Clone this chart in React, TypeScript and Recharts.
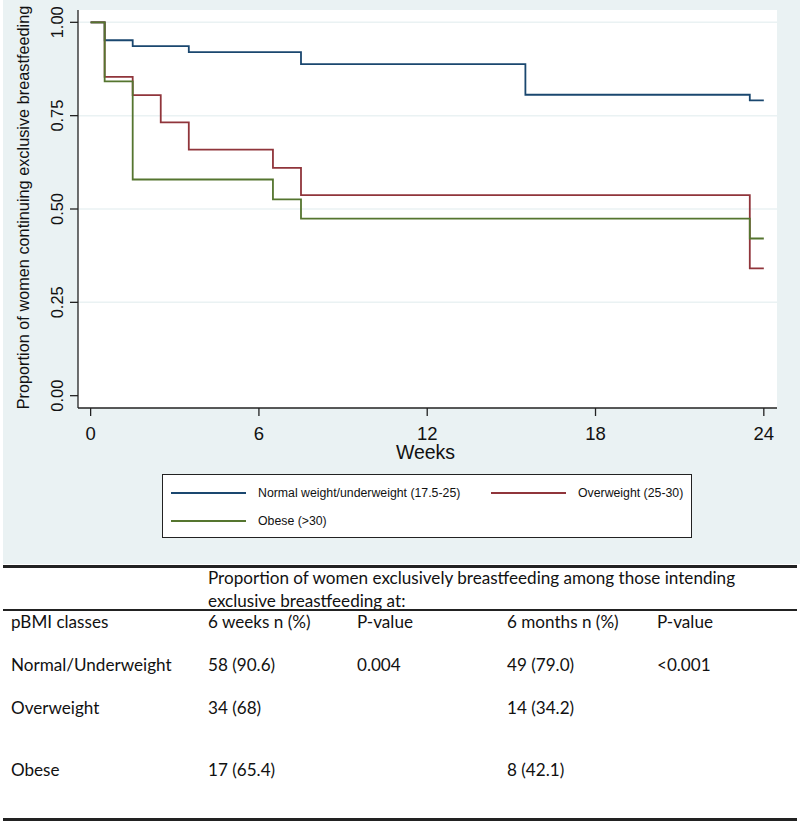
import React from "react";
import { LineChart, Line, XAxis, YAxis, CartesianGrid, ReferenceLine, Label } from "recharts";

// ---- data ----
const xTicks = [0, 6, 12, 18, 24];
const yTicks = [0, 0.25, 0.5, 0.75, 1];
const gridValues = [0.25, 0.5, 0.75, 1];

const normalWeeks = [0, 0.5, 1.5, 3.5, 7.5, 15.5, 23.5, 24];
const normalSurv = [1.0, 0.952, 0.936, 0.92, 0.888, 0.806, 0.791, 0.791];

const overWeeks = [0, 0.5, 1.5, 2.5, 3.5, 6.5, 7.5, 23.5, 24];
const overSurv = [1.0, 0.854, 0.805, 0.732, 0.659, 0.61, 0.537, 0.341, 0.341];

const obeseWeeks = [0, 0.5, 1.5, 6.5, 7.5, 23.5, 24];
const obeseSurv = [1.0, 0.842, 0.579, 0.526, 0.474, 0.421, 0.421];

const seriesNames = ["Normal weight/underweight (17.5-25)", "Overweight (25-30)", "Obese (>30)"];
const seriesColors = ["#1a476f", "#90353b", "#55752f"];

const tableHeader1 = "Proportion of women exclusively breastfeeding among those intending";
const tableHeader2 = "exclusive breastfeeding at:";
const colHeaders = ["pBMI classes", "6 weeks n (%)", "P-value", "6 months n (%)", "P-value"];
const rowLabels = ["Normal/Underweight", "Overweight", "Obese"];
const weeks6 = ["58 (90.6)", "34 (68)", "17 (65.4)"];
const p6 = ["0.004", "", ""];
const months6 = ["49 (79.0)", "14 (34.2)", "8 (42.1)"];
const pMonths = ["<0.001", "", ""];

const toData = (w: number[], s: number[]) => w.map((x, i) => ({ w: x, s: s[i] }));
const seriesData = [
  toData(normalWeeks, normalSurv),
  toData(overWeeks, overSurv),
  toData(obeseWeeks, obeseSurv),
];

const AX = "'Liberation Sans', Arial, sans-serif";
const TBL = "Lato, 'Open Sans', sans-serif";

const XTick = (p: any) => (
  <text x={p.x} y={p.y + 24} textAnchor="middle" fontSize={18.5} fontFamily={AX} fill="#111">
    {p.payload.value}
  </text>
);

const YTick = (p: any) => (
  <text
    x={0}
    y={0}
    transform={`translate(${p.x - 7},${p.y}) rotate(-90)`}
    textAnchor="middle"
    fontSize={16.4}
    fontFamily={AX}
    fill="#111"
  >
    {Number(p.payload.value).toFixed(2)}
  </text>
);

const rowY = [665, 708, 770];
const colX = [11, 208, 357, 507, 657];

const Cell = ({ x, y, text }: { x: number; y: number; text: string }) => (
  <div
    style={{
      position: "absolute",
      left: x,
      top: y - 12,
      height: 24,
      lineHeight: "24px",
      fontSize: 17.1,
      fontFamily: TBL,
      color: "#111",
      whiteSpace: "nowrap",
    }}
  >
    {text}
  </div>
);

export default function App() {
  return (
    <div style={{ position: "absolute", left: 0, top: 0, width: 800, height: 822, background: "#fff" }}>
      <div style={{ position: "absolute", left: 3, top: 0, width: 797, height: 564, background: "#eaf2f3" }} />
      <div style={{ position: "absolute", left: 0, top: 0 }}>
        <LineChart width={800} height={564} margin={{ top: 10, right: 23, bottom: 106, left: 18 }}>
          <CartesianGrid horizontal={false} vertical={false} fill="#ffffff" />
          {gridValues.map((v) => (
            <ReferenceLine key={v} y={v} stroke="#eaf2f3" strokeWidth={1.5} />
          ))}
          <XAxis
            type="number"
            dataKey="w"
            domain={[-0.45, 24.47]}
            allowDataOverflow
            ticks={xTicks}
            tick={<XTick />}
            tickSize={8}
            tickMargin={0}
            height={50}
            axisLine={{ stroke: "#222", strokeWidth: 1.3 }}
            tickLine={{ stroke: "#222", strokeWidth: 1.3 }}
          >
            <Label
              content={(props: any) => {
                const vb = props.viewBox || { x: 78, y: 408, width: 699, height: 50 };
                return (
                  <text x={vb.x + vb.width / 2 - 2} y={vb.y + 51} textAnchor="middle" fontSize={19.5} fontFamily={AX} fill="#111">
                    Weeks
                  </text>
                );
              }}
            />
          </XAxis>
          <YAxis
            type="number"
            domain={[-0.033, 1.033]}
            allowDataOverflow
            ticks={yTicks}
            tick={<YTick />}
            tickSize={8}
            tickMargin={0}
            width={60}
            axisLine={{ stroke: "#222", strokeWidth: 1.3 }}
            tickLine={{ stroke: "#222", strokeWidth: 1.3 }}
          >
            <Label
              content={(props: any) => {
                const vb = props.viewBox || { x: 18, y: 10, width: 60, height: 398 };
                const cy = vb.y + vb.height / 2 - 1.5;
                return (
                  <text
                    x={0}
                    y={0}
                    transform={`translate(${vb.x + 11},${cy}) rotate(-90)`}
                    textAnchor="middle"
                    fontSize={16.3}
                    fontFamily={AX}
                    fill="#111"
                  >
                    Proportion of women continuing exclusive breastfeeding
                  </text>
                );
              }}
            />
          </YAxis>
          {seriesData.map((d, i) => (
            <Line
              key={seriesNames[i]}
              data={d}
              dataKey="s"
              name={seriesNames[i]}
              type="stepAfter"
              stroke={seriesColors[i]}
              strokeWidth={1.8}
              dot={false}
              activeDot={false}
              isAnimationActive={false}
            />
          ))}
        </LineChart>
      </div>

      {/* Legend */}
      <div
        style={{
          position: "absolute",
          left: 162,
          top: 474,
          width: 528,
          height: 62,
          background: "#fff",
          border: "1.3px solid #222",
        }}
      >
        {[
          { i: 0, lx: 8, ty: 18 },
          { i: 1, lx: 328, ty: 18 },
          { i: 2, lx: 8, ty: 46 },
        ].map(({ i, lx, ty }) => (
          <React.Fragment key={i}>
            <div
              style={{
                position: "absolute",
                left: lx,
                top: ty - 1,
                width: 75,
                height: 2,
                background: seriesColors[i],
              }}
            />
            <div
              style={{
                position: "absolute",
                left: lx + 87,
                top: ty - 9,
                height: 18,
                lineHeight: "18px",
                fontSize: 12.3,
                fontFamily: AX,
                color: "#111",
                whiteSpace: "nowrap",
              }}
            >
              {seriesNames[i]}
            </div>
          </React.Fragment>
        ))}
      </div>

      {/* Table */}
      <div style={{ position: "absolute", left: 3, top: 565, width: 794, height: 3, background: "#222" }} />
      <Cell x={colX[1]} y={578} text={tableHeader1} />
      <Cell x={colX[1]} y={601} text={tableHeader2} />
      <div style={{ position: "absolute", left: 3, top: 609, width: 794, height: 2, background: "#222" }} />
      {colHeaders.map((h, i) => (
        <Cell key={"h" + i} x={colX[i]} y={622} text={h} />
      ))}
      {rowLabels.map((r, i) => (
        <React.Fragment key={r}>
          <Cell x={colX[0]} y={rowY[i]} text={r} />
          <Cell x={colX[1]} y={rowY[i]} text={weeks6[i]} />
          <Cell x={colX[2]} y={rowY[i]} text={p6[i]} />
          <Cell x={colX[3]} y={rowY[i]} text={months6[i]} />
          <Cell x={colX[4]} y={rowY[i]} text={pMonths[i]} />
        </React.Fragment>
      ))}
      <div style={{ position: "absolute", left: 3, top: 818, width: 794, height: 3, background: "#222" }} />
    </div>
  );
}
